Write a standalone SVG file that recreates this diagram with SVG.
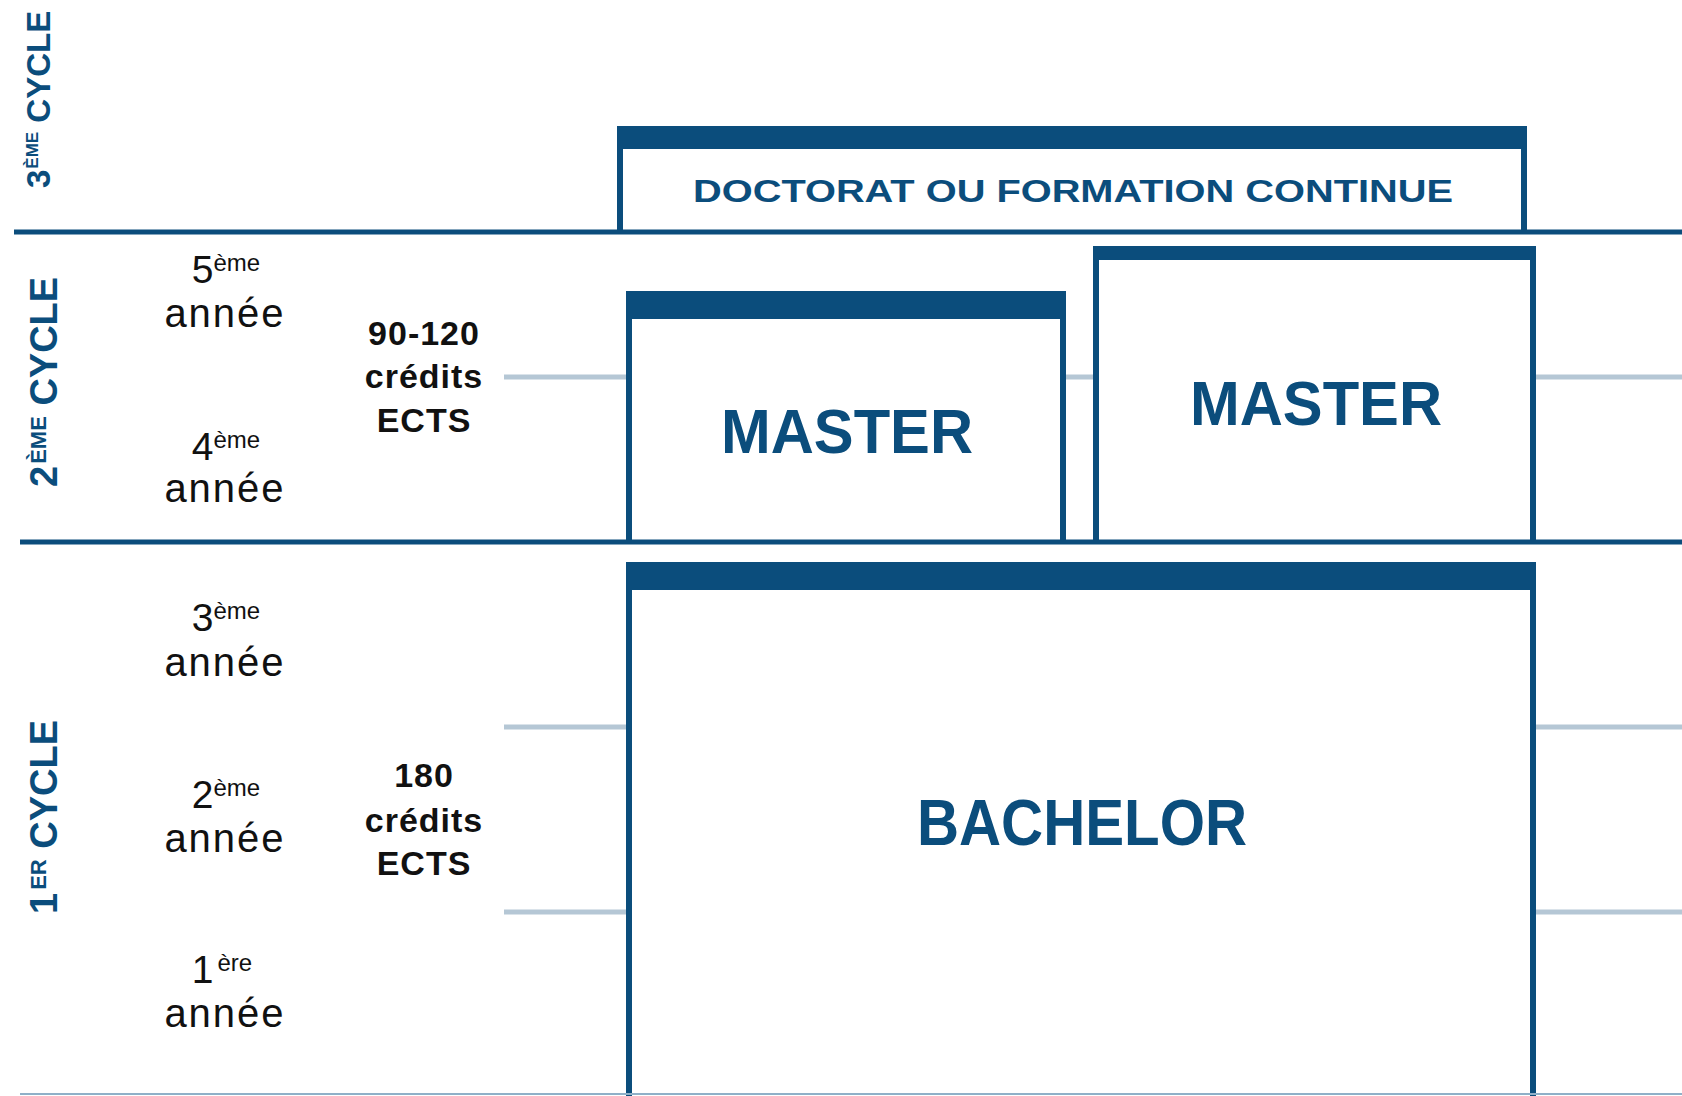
<svg xmlns="http://www.w3.org/2000/svg" width="1682" height="1096" viewBox="0 0 1682 1096">
<style>
.dk{fill:#0b4d7c}
.box{fill:#ffffff;stroke:#0b4d7c;stroke-width:6}
.grid{stroke:#b5c7d5;stroke-width:5}
.sep{stroke:#0b4d7c;stroke-width:5}
.cyc{font-family:"Liberation Sans",Arial,sans-serif;font-weight:bold;fill:#0b4d7c}
.yr{font-family:"Liberation Sans",Arial,sans-serif;fill:#111111;text-anchor:middle}
.ects{font-family:"Liberation Sans",Arial,sans-serif;font-weight:bold;fill:#111111;text-anchor:middle;font-size:34px;letter-spacing:1px}
.big{font-family:"Liberation Sans",Arial,sans-serif;font-weight:bold;fill:#0b4d7c;text-anchor:middle}
</style>
<rect width="1682" height="1096" fill="#ffffff"/>
<g id="connectors">
<line class="grid" x1="504" y1="377" x2="1682" y2="377"/>
<line class="grid" x1="504" y1="727" x2="1682" y2="727"/>
<line class="grid" x1="504" y1="912" x2="1682" y2="912"/>
</g>
<g id="cycle3">
<text class="cyc" transform="translate(50,188) rotate(-90)" font-size="33"><tspan>3</tspan><tspan font-size="17" dy="-12" dx="1">ÈME</tspan><tspan dy="12"> CYCLE</tspan></text>
</g>
<g id="cycle2">
<text class="cyc" transform="translate(57,487) rotate(-90)" font-size="38"><tspan>2</tspan><tspan font-size="22" dy="-11" dx="2">ÈME</tspan><tspan dy="11"> CYCLE</tspan></text>
</g>
<g id="cycle1">
<text class="cyc" transform="translate(57,914) rotate(-90)" font-size="38"><tspan>1</tspan><tspan font-size="22" dy="-11" dx="3">ER</tspan><tspan dy="11"> CYCLE</tspan></text>
</g>
<g id="years">
<text class="yr" x="226" y="283" font-size="39">5<tspan font-size="24" dy="-12">ème</tspan></text>
<text class="yr" x="225" y="327" font-size="40" letter-spacing="2">année</text>
<text class="yr" x="226" y="460" font-size="39">4<tspan font-size="24" dy="-12">ème</tspan></text>
<text class="yr" x="225" y="502" font-size="40" letter-spacing="2">année</text>
<text class="yr" x="226" y="631" font-size="39">3<tspan font-size="24" dy="-12">ème</tspan></text>
<text class="yr" x="225" y="676" font-size="40" letter-spacing="2">année</text>
<text class="yr" x="226" y="808" font-size="39">2<tspan font-size="24" dy="-12">ème</tspan></text>
<text class="yr" x="225" y="852" font-size="40" letter-spacing="2">année</text>
<text class="yr" x="222" y="983" font-size="39">1<tspan font-size="24" dy="-12" dx="4">ère</tspan></text>
<text class="yr" x="225" y="1027" font-size="40" letter-spacing="2">année</text>
</g>
<g id="ects-master">
<text class="ects" x="424" y="345">90-120</text>
<text class="ects" x="424" y="388">crédits</text>
<text class="ects" x="424" y="432">ECTS</text>
</g>
<g id="ects-bachelor">
<text class="ects" x="424" y="787">180</text>
<text class="ects" x="424" y="832">crédits</text>
<text class="ects" x="424" y="875">ECTS</text>
</g>
<g id="doctorat">
<path class="box" d="M620,232 V129 H1524 V232"/>
<rect class="dk" x="617" y="126" width="910" height="23"/>
<text class="big" x="1073" y="202" font-size="31" textLength="760" lengthAdjust="spacingAndGlyphs">DOCTORAT OU FORMATION CONTINUE</text>
</g>
<g id="master1">
<path class="box" d="M629,542 V294 H1063 V542"/>
<rect class="dk" x="626" y="291" width="440" height="28"/>
<text class="big" x="847" y="453" font-size="63" textLength="252" lengthAdjust="spacingAndGlyphs">MASTER</text>
</g>
<g id="master2">
<path class="box" d="M1096,542 V249 H1533 V542"/>
<rect class="dk" x="1093" y="246" width="443" height="14"/>
<text class="big" x="1316" y="425" font-size="63" textLength="252" lengthAdjust="spacingAndGlyphs">MASTER</text>
</g>
<g id="bachelor">
<path class="box" d="M629,1096 V565 H1533 V1096"/>
<rect class="dk" x="626" y="562" width="910" height="28"/>
<text class="big" x="1082" y="845" font-size="64" textLength="330" lengthAdjust="spacingAndGlyphs">BACHELOR</text>
</g>
<g id="separators">
<line class="sep" x1="14" y1="232" x2="1682" y2="232"/>
<line class="sep" x1="20" y1="542" x2="1682" y2="542"/>
<line stroke="#8fb0c8" stroke-width="2" x1="20" y1="1094" x2="1682" y2="1094"/>
</g>
</svg>
